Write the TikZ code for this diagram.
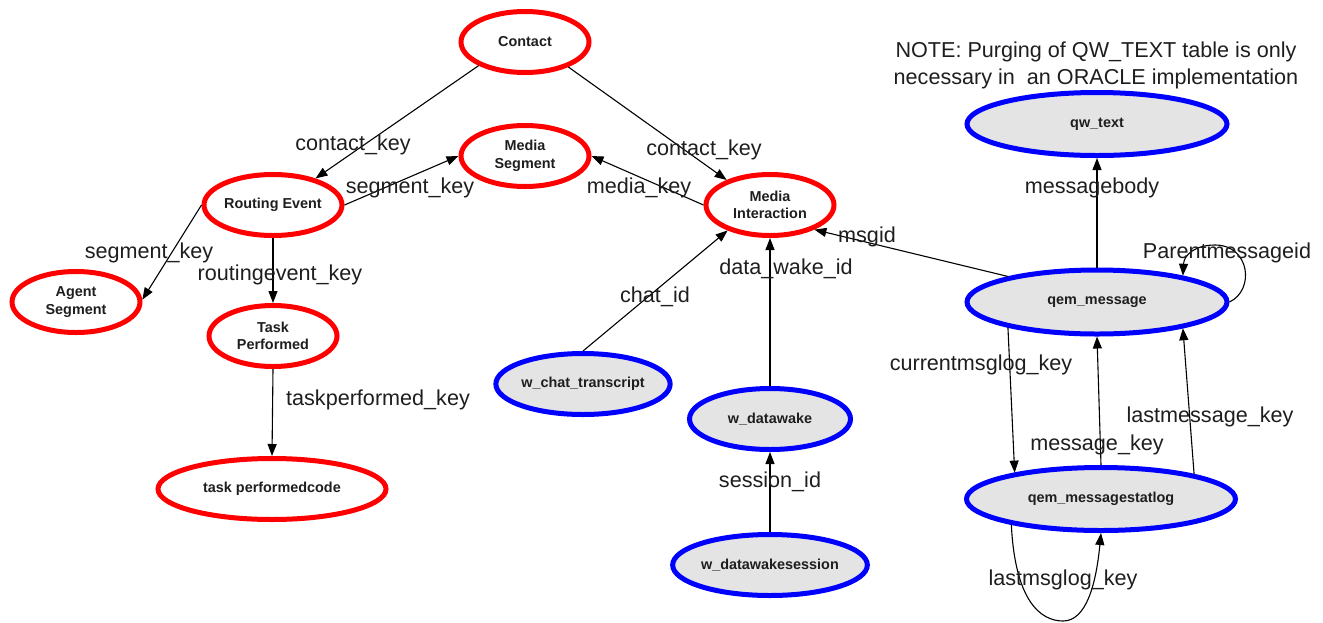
\documentclass[tikz,border=0pt]{standalone}
\usepackage{fontspec}
\setmainfont{Liberation Sans}
\usetikzlibrary{arrows.meta,shapes.geometric}
\definecolor{tblred}{RGB}{255,0,0}
\definecolor{tblblue}{RGB}{0,0,255}
\definecolor{tblfill}{RGB}{228,228,228}
\definecolor{ink}{RGB}{30,30,30}
\tikzset{
  entity/.style={ellipse, draw=tblred, line width=5pt, inner sep=0pt, align=center,
    font=\fontsize{14.4}{17.5}\selectfont\bfseries, text=ink,
    minimum width=128pt, minimum height=61pt},
  wtable/.style={entity, draw=tblblue, fill=tblfill},
  fk/.style={-{Triangle[length=12pt,width=9pt]}, line width=1.1pt, black},
  keylabel/.style={font=\fontsize{21.6}{27}\selectfont, text=ink, inner sep=0pt, align=center},
}
\begin{document}
\begin{tikzpicture}[x=1pt,y=-1pt]
\useasboundingbox (0,0) rectangle (1323,622);

% contact / routing tables
\node[entity] (contact) at (525,42) {Contact};
\node[entity] (mseg) at (525,156) {Media\\Segment};
\node[entity] (rev) at (273,205) {Routing Event};
\node[entity] (aseg) at (76,302) {Agent\\Segment};
\node[entity] (task) at (273,336) {Task\\Performed};
\node[entity, minimum width=228pt] (tcode) at (272,489) {task performedcode};
\node[entity] (mint) at (770,205) {Media\\Interaction};

% web / queue tables
\node[wtable, minimum width=163pt] (chat) at (583,384) {w\_chat\_transcript};
\node[wtable, minimum width=161pt] (dwake) at (770,419) {w\_datawake};
\node[wtable, minimum width=194pt] (dsess) at (770,565) {w\_datawakesession};
\node[wtable, minimum width=260pt, minimum height=63pt] (qwtext) at (1097,124) {qw\_text};
\node[wtable, minimum width=260pt, minimum height=64pt] (qmsg) at (1097,302) {qem\_message};
\node[wtable, minimum width=269pt, minimum height=63pt] (qlog) at (1101,499) {qem\_messagestatlog};

% foreign keys
\draw[fk] (contact.207) -- (rev.32);
\draw[fk] (contact.-30) -- (mint.150);
\draw[fk] (rev.0) -- (mseg.180);
\draw[fk] (mint.180) -- (mseg.0);
\draw[fk] (rev.180) -- (aseg.2);
\draw[fk] (rev.south) -- (task.north);
\draw[fk] (task.south) -- (tcode.north);
\draw[fk] (chat.north) -- (mint.211);
\draw[fk] (dwake.north) -- (mint.south);
\draw[fk] (dsess.north) -- (dwake.south);
\draw[fk] (qmsg.164.6) -- (mint.-29);
\draw[fk] (qmsg.north) -- (qwtext.south);
\draw[fk] (qmsg.0) .. controls (1255,290) and (1250,245) .. (1215,245)
                   .. controls (1195,245) and (1184,255) .. (qmsg.17);
\draw[fk] (qmsg.196.8) -- (qlog.163.5);
\draw[fk] (qlog.north) -- (qmsg.south);
\draw[fk] (qlog.15.9) -- (qmsg.-17.8);
\draw[fk] (qlog.196) .. controls (1015,600) and (1040,621) .. (1063,621)
                     .. controls (1086,621) and (1096,585) .. (qlog.south);

% key names
\node[keylabel] (l1) at (353,145) {contact\_key};
\node[keylabel] (l2) at (704,150) {contact\_key};
\node[keylabel] (l3) at (410,188) {segment\_key};
\node[keylabel] (l4) at (639,188) {media\_key};
\node[keylabel] (l5) at (149,253) {segment\_key};
\node[keylabel] (l6) at (280,275) {routingevent\_key};
\node[keylabel] (l7) at (378,400) {taskperformed\_key};
\node[keylabel] (l8) at (655,297) {chat\_id};
\node[keylabel] (l9) at (786,269) {data\_wake\_id};
\node[keylabel] (l10) at (867,237) {msgid};
\node[keylabel] (l11) at (770,482) {session\_id};
\node[keylabel] (l12) at (1092,188) {messagebody};
\node[keylabel] (l13) at (1227,253) {Parentmessageid};
\node[keylabel] (l14) at (981,365) {currentmsglog\_key};
\node[keylabel] (l15) at (1210,417) {lastmessage\_key};
\node[keylabel] (l16) at (1097,445) {message\_key};
\node[keylabel] (l17) at (1063,580) {lastmsglog\_key};

% note
\node[keylabel] (note) at (1096,65) {NOTE: Purging of QW\_TEXT table is only\\necessary in\ \ an ORACLE implementation};
\end{tikzpicture}
\end{document}
